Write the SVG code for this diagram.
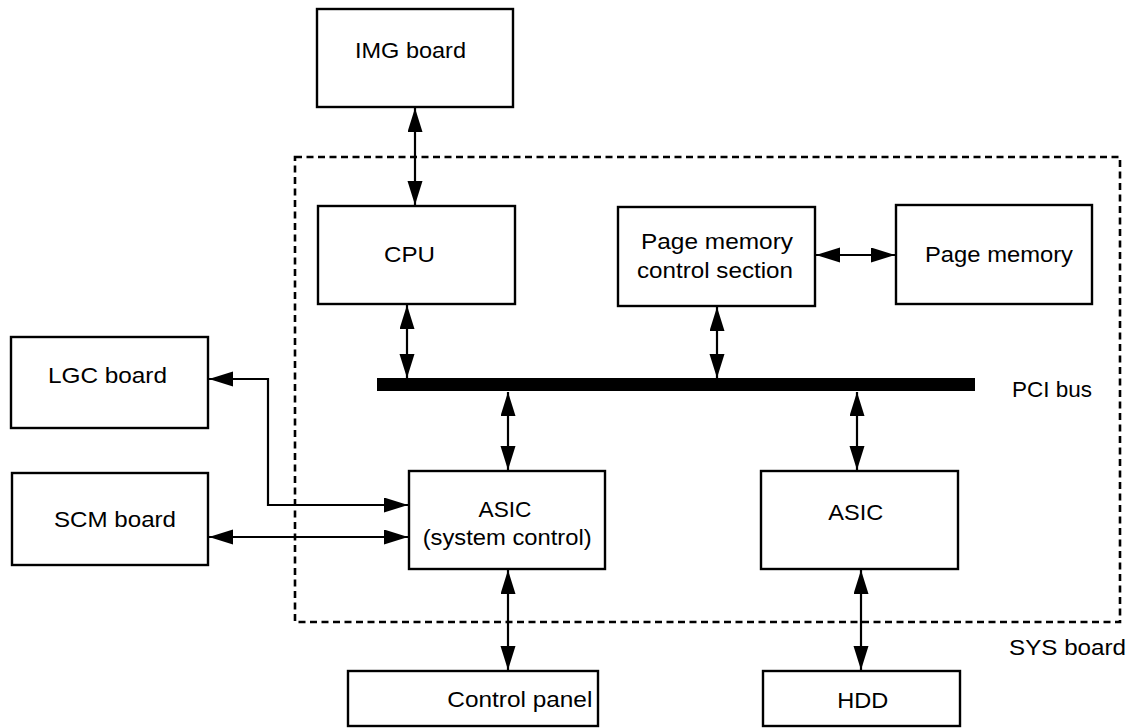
<svg xmlns="http://www.w3.org/2000/svg" width="1131" height="728" viewBox="0 0 1131 728">
  <style>
    .box { fill: #fff; stroke: #000; stroke-width: 2.4; }
    .lbl { font-family: "Liberation Sans", Arial, sans-serif; font-size: 21.5px; fill: #000; }
    .wire { fill: none; stroke: #000; stroke-width: 2.2; }
    .frame { fill: none; stroke: #000; stroke-width: 2.6; stroke-dasharray: 7 4.5; }
  </style>
  <defs>
    <marker id="head" markerUnits="userSpaceOnUse" markerWidth="26" markerHeight="16" refX="24" refY="7.5" orient="auto-start-reverse">
      <path d="M0,0 L24,7.5 L0,15 Z" fill="#000"/>
    </marker>
  </defs>

  <!-- SYS board outline -->
  <g id="sys-board">
    <rect class="frame" x="295" y="157" width="825" height="465"/>
    <text class="lbl" x="1009" y="655" textLength="117" lengthAdjust="spacingAndGlyphs">SYS board</text>
  </g>

  <!-- PCI bus -->
  <g id="pci-bus">
    <rect x="377" y="378" width="598" height="13" fill="#000"/>
    <text class="lbl" x="1012" y="396.5" textLength="80" lengthAdjust="spacingAndGlyphs">PCI bus</text>
  </g>

  <g id="img-board">
    <rect class="box" x="317" y="9" width="196" height="98"/>
    <text class="lbl" x="355" y="57.5" textLength="111" lengthAdjust="spacingAndGlyphs">IMG board</text>
  </g>

  <g id="cpu">
    <rect class="box" x="318" y="206" width="197" height="98"/>
    <text class="lbl" x="384" y="262" textLength="51" lengthAdjust="spacingAndGlyphs">CPU</text>
  </g>

  <g id="page-memory-control">
    <rect class="box" x="618" y="207" width="197" height="99"/>
    <text class="lbl" x="641" y="248.5" textLength="152" lengthAdjust="spacingAndGlyphs">Page memory</text>
    <text class="lbl" x="637" y="277.5" textLength="156" lengthAdjust="spacingAndGlyphs">control section</text>
  </g>

  <g id="page-memory">
    <rect class="box" x="896" y="205" width="196" height="99"/>
    <text class="lbl" x="925" y="262" textLength="148" lengthAdjust="spacingAndGlyphs">Page memory</text>
  </g>

  <g id="lgc-board">
    <rect class="box" x="11" y="337" width="197" height="91"/>
    <text class="lbl" x="48" y="383" textLength="119" lengthAdjust="spacingAndGlyphs">LGC board</text>
  </g>

  <g id="scm-board">
    <rect class="box" x="12" y="473" width="196" height="92"/>
    <text class="lbl" x="54" y="527" textLength="122" lengthAdjust="spacingAndGlyphs">SCM board</text>
  </g>

  <g id="asic-system-control">
    <rect class="box" x="409" y="471" width="196" height="98"/>
    <text class="lbl" x="478.5" y="517" textLength="53" lengthAdjust="spacingAndGlyphs">ASIC</text>
    <text class="lbl" x="422.7" y="545" textLength="169" lengthAdjust="spacingAndGlyphs">(system control)</text>
  </g>

  <g id="asic">
    <rect class="box" x="761" y="471" width="197" height="98"/>
    <text class="lbl" x="828.3" y="520" textLength="55" lengthAdjust="spacingAndGlyphs">ASIC</text>
  </g>

  <g id="control-panel">
    <rect class="box" x="348" y="671" width="250" height="55"/>
    <text class="lbl" x="447.3" y="707" textLength="145" lengthAdjust="spacingAndGlyphs">Control panel</text>
  </g>

  <g id="hdd">
    <rect class="box" x="763" y="671" width="197" height="55"/>
    <text class="lbl" x="837.3" y="707.5" textLength="51" lengthAdjust="spacingAndGlyphs">HDD</text>
  </g>

  <!-- connectors -->
  <g id="connectors">
    <line class="wire" x1="415" y1="108" x2="415" y2="205" marker-start="url(#head)" marker-end="url(#head)"/>
    <line class="wire" x1="407" y1="305" x2="407" y2="378" marker-start="url(#head)" marker-end="url(#head)"/>
    <line class="wire" x1="717" y1="307" x2="717" y2="378" marker-start="url(#head)" marker-end="url(#head)"/>
    <line class="wire" x1="816" y1="255" x2="895" y2="255" marker-start="url(#head)" marker-end="url(#head)"/>
    <line class="wire" x1="508" y1="392" x2="508" y2="470" marker-start="url(#head)" marker-end="url(#head)"/>
    <line class="wire" x1="857" y1="392" x2="857" y2="470" marker-start="url(#head)" marker-end="url(#head)"/>
    <polyline class="wire" points="209,379 268,379 268,505 408,505" marker-start="url(#head)" marker-end="url(#head)"/>
    <line class="wire" x1="209" y1="537" x2="408" y2="537" marker-start="url(#head)" marker-end="url(#head)"/>
    <line class="wire" x1="508" y1="570" x2="508" y2="670" marker-start="url(#head)" marker-end="url(#head)"/>
    <line class="wire" x1="861" y1="570" x2="861" y2="670" marker-start="url(#head)" marker-end="url(#head)"/>
  </g>
</svg>
